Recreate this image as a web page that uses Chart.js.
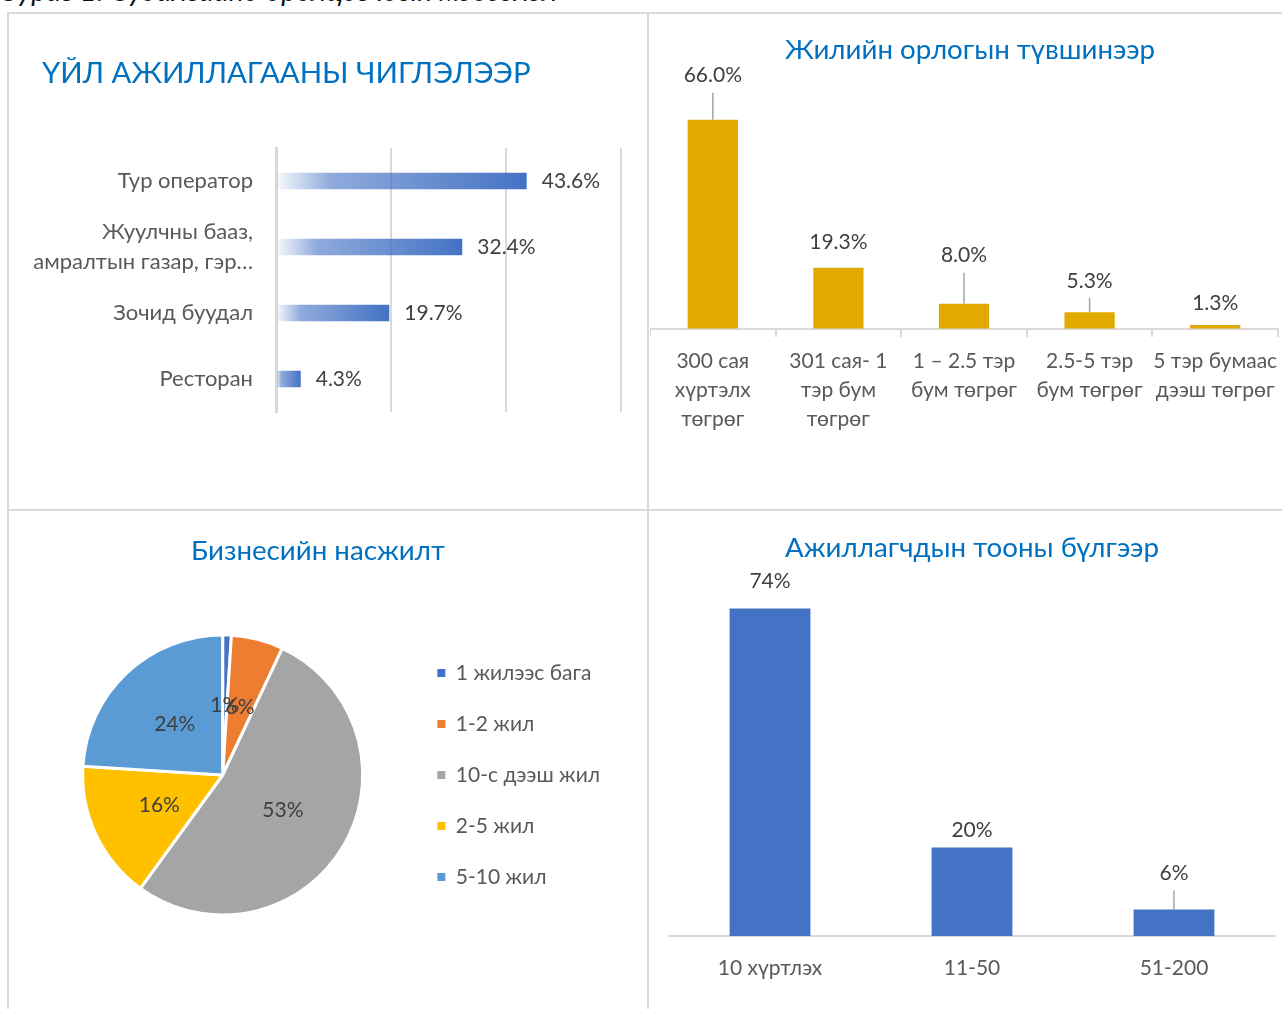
<!DOCTYPE html>
<html>
<head>
<meta charset="utf-8">
<script src="https://cdn.jsdelivr.net/npm/chart.js@4.4.1/dist/chart.umd.min.js"></script>
<style>
  html, body { margin: 0; padding: 0; background: #fff; width: 1282px; height: 1009px; overflow: hidden; position: relative; }
  .line { position: absolute; background: #d9d9d9; }
  .box { position: absolute; }
  .caption { position: absolute; left: 2px; top: -24px; font: italic 29px/28px Lato, sans-serif; color: #111; white-space: nowrap; }
</style>
</head>
<body>
<div class="caption">Зураг 1. Судалгаанд оролцогчдын мэдээлэл</div>
<div class="line" style="left:7px;top:12px;width:2px;height:997px"></div>
<div class="line" style="left:7px;top:12px;width:1275px;height:2px"></div>
<div class="line" style="left:647px;top:12px;width:2px;height:997px"></div>
<div class="line" style="left:7px;top:509px;width:1275px;height:2px"></div>

<div class="box" style="left:10px;top:14px"><canvas id="c1" width="636" height="494"></canvas></div>
<div class="box" style="left:650px;top:14px"><canvas id="c2" width="652" height="494"></canvas></div>
<div class="box" style="left:10px;top:512px"><canvas id="c3" width="636" height="497"></canvas></div>
<div class="box" style="left:650px;top:512px"><canvas id="c4" width="640" height="497"></canvas></div>

<script>
// ---------- DATA ----------
const activityTitle = 'ҮЙЛ АЖИЛЛАГААНЫ ЧИГЛЭЛЭЭР';
const activityLabels = [['Тур оператор'], ['Жуулчны бааз,', 'амралтын газар, гэр…'], ['Зочид буудал'], ['Ресторан']];
const activityValues = [43.6, 32.4, 19.7, 4.3];
const activityAxisTicks = [0, 20, 40, 60];

const incomeTitle = 'Жилийн орлогын түвшинээр';
const incomeLabels = [['300 сая', 'хүртэлх', 'төгрөг'], ['301 сая- 1', 'тэр бум', 'төгрөг'], ['1 – 2.5 тэр', 'бум төгрөг'], ['2.5-5 тэр', 'бум төгрөг'], ['5 тэр бумаас', 'дээш төгрөг']];
const incomeValues = [66.0, 19.3, 8.0, 5.3, 1.3];

const ageTitle = 'Бизнесийн насжилт';
const ageLabels = ['1 жилээс бага', '1-2 жил', '10-с дээш жил', '2-5 жил', '5-10 жил'];
const ageValues = [1, 6, 53, 16, 24];

const staffTitle = 'Ажиллагчдын тооны бүлгээр';
const staffLabels = ['10 хүртлэх', '11-50', '51-200'];
const staffValues = [74, 20, 6];

// ---------- STYLE ----------
const FONT = 'Lato';
const TITLE_COLOR = '#0070C0';
const TEXT = '#595959';
const LABEL = '#404040';
const GRID = '#d9d9d9';
const capsTitleFont = { family: FONT, size: 29.4, weight: 'normal', lineHeight: 36 / 29.4 };
const titleFont = { family: FONT, size: 27.7, weight: 'normal', lineHeight: 36 / 27.7 };
const bodyFont = { family: FONT, size: 21 };
const incomeLabelOffsets = [44, 26, 48, 31, 22];
const staffLabelOffsets = [27, 17, 36];
const pieColors = ['#4472C4', '#ED7D31', '#A5A5A5', '#FFC000', '#5B9BD5'];

Chart.defaults.font.family = FONT;
Chart.defaults.animation = false;

// shifts the title box horizontally after layout
function titleShift(dx) {
  return {
    id: 'titleShift',
    afterLayout(chart) {
      if (chart.titleBlock) { chart.titleBlock.left += dx; chart.titleBlock.right += dx; }
    }
  };
}

// label plugin for horizontal bars
const hbarLabels = {
  id: 'hbarLabels',
  afterDatasetsDraw(chart) {
    const ctx = chart.ctx;
    const meta = chart.getDatasetMeta(0);
    ctx.save();
    ctx.font = `21px ${FONT}`;
    ctx.fillStyle = LABEL;
    ctx.textAlign = 'left';
    ctx.textBaseline = 'middle';
    meta.data.forEach((bar, i) => {
      const v = chart.data.datasets[0].data[i];
      ctx.fillText(v.toFixed(1) + '%', bar.x + 15, bar.y);
    });
    ctx.restore();
  }
};

// label plugin for vertical bars with leader lines
function vbarLabels(offsets, decimals) {
  return {
    id: 'vbarLabels',
    afterDatasetsDraw(chart) {
      const ctx = chart.ctx;
      const meta = chart.getDatasetMeta(0);
      ctx.save();
      ctx.font = `21px ${FONT}`;
      ctx.textAlign = 'center';
      ctx.textBaseline = 'middle';
      meta.data.forEach((bar, i) => {
        const v = chart.data.datasets[0].data[i];
        const ly = bar.y - offsets[i];
        if (offsets[i] - 17 > 12) {
          ctx.strokeStyle = '#a6a6a6';
          ctx.lineWidth = 1.5;
          ctx.beginPath();
          ctx.moveTo(bar.x, ly + 17);
          ctx.lineTo(bar.x, bar.y);
          ctx.stroke();
        }
        ctx.fillStyle = LABEL;
        ctx.fillText(v.toFixed(decimals) + '%', bar.x, ly);
      });
      ctx.restore();
    }
  };
}

// pie labels
const pieLabels = {
  id: 'pieLabels',
  afterDatasetsDraw(chart) {
    const ctx = chart.ctx;
    const meta = chart.getDatasetMeta(0);
    ctx.save();
    ctx.font = `21px ${FONT}`;
    ctx.fillStyle = LABEL;
    ctx.textAlign = 'center';
    ctx.textBaseline = 'middle';
    meta.data.forEach((arc, i) => {
      const p = arc.tooltipPosition();
      ctx.fillText(chart.data.datasets[0].data[i] + '%', p.x, p.y);
    });
    ctx.restore();
  }
};

// ---------- CHART 1 ----------
new Chart(document.getElementById('c1'), {
  type: 'bar',
  data: {
    labels: activityLabels,
    datasets: [{
      data: activityValues,
      backgroundColor: (c) => {
        const chart = c.chart;
        const xs = chart.scales && chart.scales.x;
        if (!xs || c.type !== 'data') return '#4472C4';
        const x0 = xs.getPixelForValue(0), x1 = xs.getPixelForValue(c.raw);
        if (!isFinite(x0) || !isFinite(x1) || x1 <= x0) return '#4472C4';
        const g = chart.ctx.createLinearGradient(x0, 0, x1, 0);
        g.addColorStop(0, 'rgba(68,114,196,0.03)');
        g.addColorStop(0.22, 'rgba(68,114,196,0.6)');
        g.addColorStop(1, 'rgba(68,114,196,1)');
        return g;
      },
      categoryPercentage: 1,
      barPercentage: 0.25
    }]
  },
  options: {
    indexAxis: 'y',
    responsive: false,
    layout: { padding: { left: 0, right: 25, top: 0, bottom: 96 } },
    plugins: {
      legend: { display: false },
      tooltip: { enabled: false },
      title: { display: true, text: activityTitle, align: 'start', color: TITLE_COLOR, font: capsTitleFont, padding: { top: 42, bottom: 56 } }
    },
    scales: {
      x: {
        min: activityAxisTicks[0], max: activityAxisTicks[activityAxisTicks.length - 1],
        afterBuildTicks: (s) => { s.ticks = activityAxisTicks.map(v => ({ value: v })); },
        ticks: { display: false },
        grid: { color: GRID, lineWidth: 2, drawTicks: false },
        border: { display: false },
        afterFit: (s) => { s.height = 0; }
      },
      y: {
        ticks: { font: { family: FONT, size: 22, lineHeight: 1.38 }, color: TEXT, padding: 23 },
        grid: { drawOnChartArea: false, drawTicks: false },
        border: { display: true, color: GRID, width: 3 },
        afterFit: (s) => { s.width = 266; }
      }
    }
  },
  plugins: [hbarLabels, titleShift(32)]
});

// ---------- CHART 2 ----------
new Chart(document.getElementById('c2'), {
  type: 'bar',
  data: {
    labels: incomeLabels,
    datasets: [{ data: incomeValues, backgroundColor: '#E2AA00', categoryPercentage: 1, barPercentage: 0.4 }]
  },
  options: {
    responsive: false,
    layout: { padding: { left: 0, right: 12, top: 0, bottom: 64 } },
    plugins: {
      legend: { display: false },
      tooltip: { enabled: false },
      title: { display: true, text: incomeTitle, color: TITLE_COLOR, font: titleFont, padding: { top: 18, bottom: 39 } }
    },
    scales: {
      y: {
        position: 'right', min: 0, max: 70,
        ticks: { display: false },
        grid: { drawOnChartArea: false, drawTicks: false },
        border: { display: false },
        afterFit: (s) => { s.width = 12; }
      },
      x: {
        ticks: { font: { family: FONT, size: 21, lineHeight: 29 / 21 }, color: TEXT, padding: 10, maxRotation: 0, autoSkip: false },
        grid: { drawOnChartArea: false, drawTicks: true, tickLength: 8, color: GRID, lineWidth: 2 },
        border: { display: true, color: GRID, width: 2 },
        afterFit: (s) => { s.height = 115; }
      }
    }
  },
  plugins: [vbarLabels(incomeLabelOffsets, 1)]
});

// ---------- CHART 3 ----------
new Chart(document.getElementById('c3'), {
  type: 'pie',
  data: {
    labels: ageLabels,
    datasets: [{ data: ageValues, backgroundColor: pieColors, borderColor: '#ffffff', borderWidth: 3 }]
  },
  options: {
    responsive: false,
    radius: 140,
    layout: { padding: { left: 28, right: 36, top: 0, bottom: 38 } },
    plugins: {
      tooltip: { enabled: false },
      title: { display: true, text: ageTitle, color: TITLE_COLOR, font: titleFont, padding: { top: 21, bottom: 10 } },
      legend: {
        position: 'right',
        fullSize: false,
        labels: {
          boxWidth: 8, boxHeight: 8, padding: 30, color: TEXT, font: bodyFont,
          generateLabels: (chart) => Chart.overrides.pie.plugins.legend.labels.generateLabels(chart).map(l => Object.assign(l, { lineWidth: 0, strokeStyle: l.fillStyle }))
        }
      }
    }
  },
  plugins: [pieLabels, titleShift(-6)]
});

// ---------- CHART 4 ----------
new Chart(document.getElementById('c4'), {
  type: 'bar',
  data: {
    labels: staffLabels,
    datasets: [{ data: staffValues, backgroundColor: '#4472C4', categoryPercentage: 1, barPercentage: 0.4 }]
  },
  options: {
    responsive: false,
    layout: { padding: { left: 19, right: 15, top: 0, bottom: 13 } },
    plugins: {
      legend: { display: false },
      tooltip: { enabled: false },
      title: { display: true, text: staffTitle, color: TITLE_COLOR, font: titleFont, padding: { top: 18, bottom: 16 } }
    },
    scales: {
      y: { display: false, min: 0, max: 80 },
      x: {
        ticks: { font: bodyFont, color: TEXT, padding: 20, maxRotation: 0, autoSkip: false },
        grid: { drawOnChartArea: false, drawTicks: false },
        border: { display: true, color: GRID, width: 2 },
        afterFit: (s) => { s.height = 60; }
      }
    }
  },
  plugins: [vbarLabels(staffLabelOffsets, 0)]
});
</script>
</body>
</html>
